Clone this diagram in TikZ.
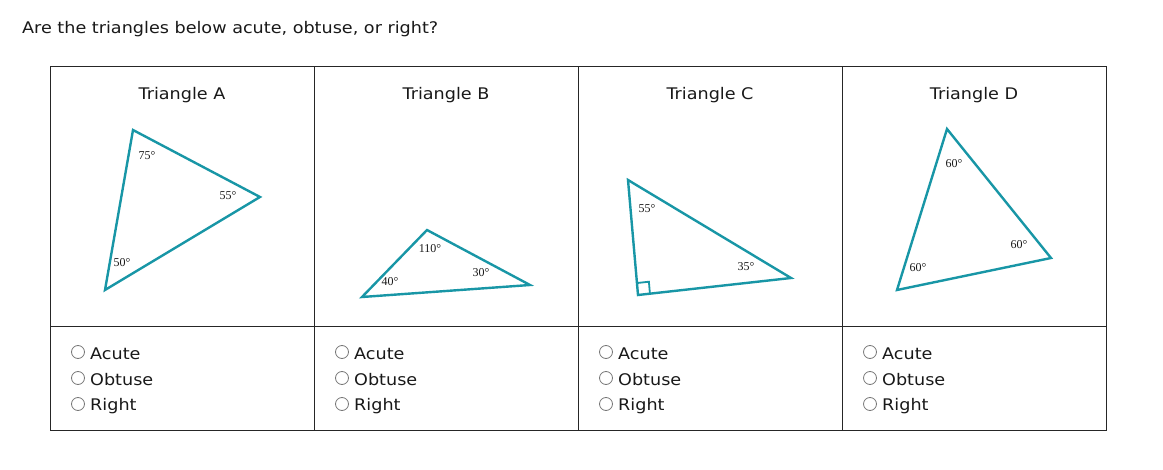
\documentclass[tikz,border=0pt]{standalone}
\usepackage{fontspec}
\setmainfont[FakeStretch=1.1]{DejaVu Sans}
\newfontfamily\anglefont{Liberation Serif}
\usetikzlibrary{calc}
\definecolor{tri}{RGB}{24,150,166}
\definecolor{txt}{RGB}{25,25,25}
\definecolor{radio}{RGB}{120,120,120}
\begin{document}
\begin{tikzpicture}[x=1pt,y=-1pt,
  every node/.style={inner sep=0pt,text=txt},
  ui/.style={font=\fontsize{16}{18}\selectfont},
  ang/.style={font=\anglefont\fontsize{12}{13}\selectfont},
  triline/.style={draw=tri,line width=2.4pt,line join=miter},
  grid/.style={draw=black!85,line width=1pt},
  radiobtn/.style={circle,draw=radio,fill=white,line width=0.8pt,minimum size=13pt},
  opt/.style={ui,anchor=west}]
\useasboundingbox (0,0) rectangle (1163,470);
% title
\node[ui,anchor=west] (title) at (22,29) {Are the triangles below acute, obtuse, or right?};
% table frame
\coordinate (tl) at (50,67);
\coordinate (br) at (1106,431);
\draw[grid] (tl) rectangle (br);
\draw[grid] (50,327) -- (1106,327);
\foreach \x in {314,578,842} \draw[grid] (\x,67) -- (\x,431);
% headers
\node[ui] (hA) at (182,95) {Triangle A};
\node[ui] (hB) at (446,95) {Triangle B};
\node[ui] (hC) at (710,95) {Triangle C};
\node[ui] (hD) at (974,95) {Triangle D};
% Triangle A
\coordinate (A1) at (133,130);
\coordinate (A2) at (260,197);
\coordinate (A3) at (105,290);
\draw[triline] (A1) -- (A2) -- (A3) -- cycle;
\node[ang] (a1) at (147,156) {75°};
\node[ang] (a2) at (228,196) {55°};
\node[ang] (a3) at (122,263) {50°};
% Triangle B
\coordinate (B1) at (427,230);
\coordinate (B2) at (530,285);
\coordinate (B3) at (362,297);
\draw[triline] (B1) -- (B2) -- (B3) -- cycle;
\node[ang] (b1) at (430,249) {110°};
\node[ang] (b2) at (481,273) {30°};
\node[ang] (b3) at (390,282) {40°};
% Triangle C
\coordinate (C1) at (628,180);
\coordinate (C2) at (791,278);
\coordinate (C3) at (638,295);
\draw[triline] (C1) -- (C2) -- (C3) -- cycle;
\coordinate (Cu) at ($(C3)!12pt!(C1)$);
\coordinate (Cv) at ($(C3)!12pt!(C2)$);
\draw[draw=tri,line width=1.8pt] (Cu) -- ($(Cu)+(Cv)-(C3)$) -- (Cv);
\node[ang] (c1) at (647,209) {55°};
\node[ang] (c2) at (746,267) {35°};
% Triangle D
\coordinate (D1) at (947,129);
\coordinate (D2) at (1051,258);
\coordinate (D3) at (897,290);
\draw[triline] (D1) -- (D2) -- (D3) -- cycle;
\node[ang] (d1) at (954,164) {60°};
\node[ang] (d2) at (1019,245) {60°};
\node[ang] (d3) at (918,268) {60°};
% options
\foreach \c/\x in {A/50,B/314,C/578,D/842}{
  \node[radiobtn] (r\c1) at (\x+28,352) {};
  \node[radiobtn] (r\c2) at (\x+28,378) {};
  \node[radiobtn] (r\c3) at (\x+28,404) {};
  \node[opt] (o\c1) at (\x+40,354) {Acute};
  \node[opt] (o\c2) at (\x+40,380) {Obtuse};
  \node[opt] (o\c3) at (\x+40,406) {Right};
}
\end{tikzpicture}
\end{document}
